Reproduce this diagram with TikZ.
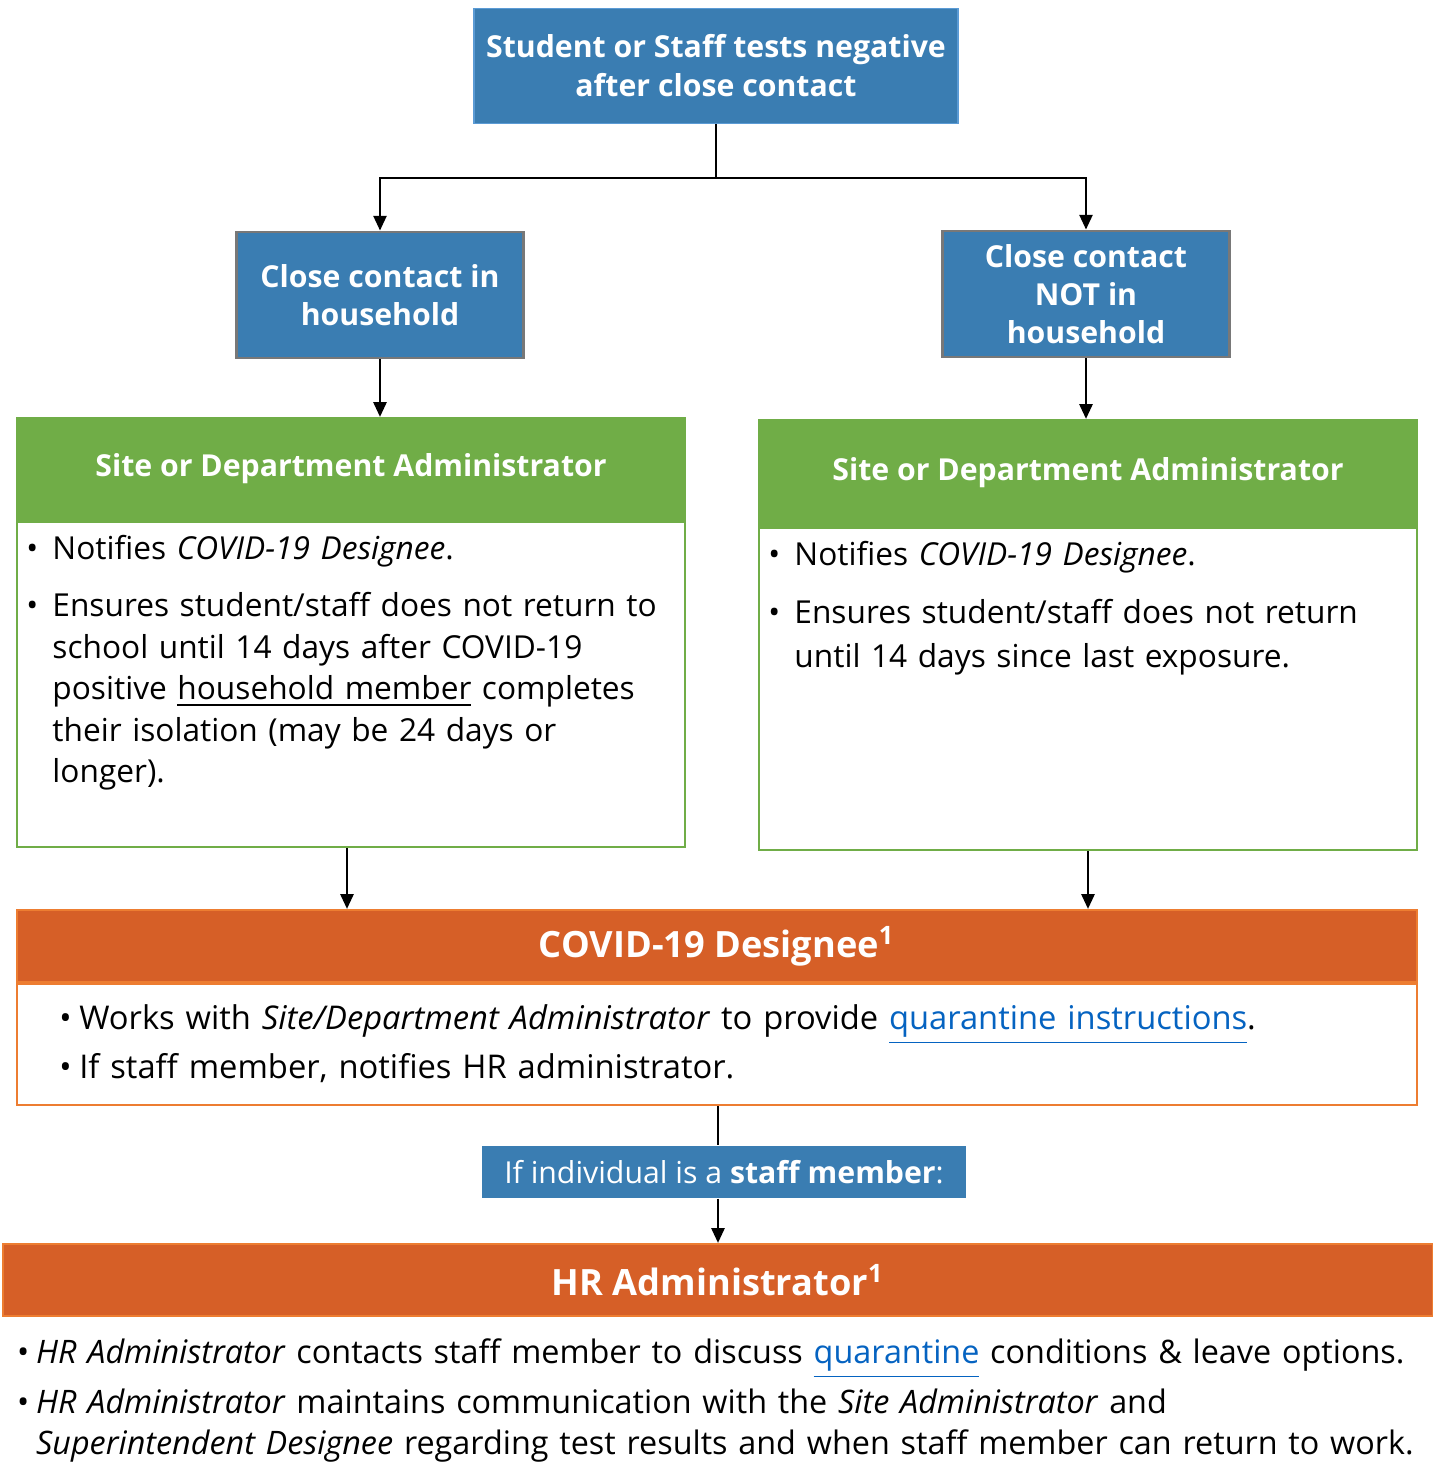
\documentclass[tikz,border=0pt]{standalone}
\usepackage{fontspec}
\setmainfont{Open Sans}
\usetikzlibrary{shapes,arrows,arrows.meta,positioning}

\definecolor{hdblue}{RGB}{58,125,178}
\definecolor{topedge}{RGB}{91,155,213}
\definecolor{boxgray}{RGB}{120,120,120}
\definecolor{hdgreen}{RGB}{112,173,71}
\definecolor{hdorange}{RGB}{214,95,39}
\definecolor{edgeorange}{RGB}{237,125,49}
\definecolor{linkblue}{RGB}{5,99,193}

\newlength\bulw
\setlength\bulw{0.26cm}
\newcommand{\itm}[1]{\noindent\hangindent=\bulw\hangafter=1\makebox[\bulw][l]{\textbullet}#1\par}
\newcommand{\lnk}[1]{\textcolor{linkblue}{\underline{#1}}}

\begin{document}
\begin{tikzpicture}[x=0.01cm,y=-0.01cm]
  % negative test after close contact
  \tikzstyle{topbox} = [draw=topedge, line width=0.5pt, fill=hdblue, text=white, align=center, inner sep=0pt,
    minimum width=4.83cm, minimum height=1.15cm, font=\fontsize{8.6}{11.1}\selectfont\bfseries];
  \tikzstyle{casebox} = [draw=boxgray, line width=0.8pt, fill=hdblue, text=white, align=center, inner sep=0pt,
    minimum width=2.87cm, minimum height=1.26cm, font=\fontsize{8.6}{10.9}\selectfont\bfseries];
  \tikzstyle{greenhead} = [draw=hdgreen, line width=0.6pt, fill=hdgreen, text=white, inner sep=0pt,
    font=\fontsize{8.6}{11}\selectfont\bfseries];
  \tikzstyle{greenbody} = [draw=hdgreen, line width=0.6pt, fill=white, inner sep=0pt];
  \tikzstyle{orangehead} = [draw=edgeorange, line width=0.6pt, fill=hdorange, text=white, inner sep=0pt,
    minimum height=0.72cm, font=\fontsize{10.3}{12}\selectfont\bfseries];
  \tikzstyle{orangebody} = [draw=edgeorange, line width=0.6pt, fill=white, inner sep=0pt];
  \tikzstyle{bodytext} = [inner sep=0pt, align=left, font=\fontsize{9}{11.8}\selectfont];
  \tikzstyle{arrow} = [line width=0.7pt, -{Triangle[width=3.7pt,length=4.2pt]}];
  \tikzstyle{plain} = [line width=0.7pt];

  \useasboundingbox (0,0) rectangle (1433,1469);

  \node[topbox] (test) at (716,66) {Student or Staff tests negative\\after close contact};

  \node[casebox] (inhouse) at (380,295) {Close contact in\\household};
  \node[casebox] (nothouse) at (1086,294) {Close contact\\NOT in\\household};

  % site administrator, household
  \node[greenhead, minimum width=6.68cm, minimum height=1.02cm] (lhead) at (351,469) {Site or Department Administrator};
  \node[greenbody, minimum width=6.68cm, minimum height=3.25cm, below=0pt of lhead] (lbody) {};
  \node[bodytext, text width=6.5cm, below right=0.13cm and 0.1cm of lbody.north west] (ltext) {%
    \setlength\parskip{4.6pt}\setlength\bulw{0.26cm}%
    \itm{Notifies \textit{COVID-19 Designee}.}
    \itm{Ensures student/staff does not return to\newline school until 14 days after COVID-19\newline positive \underline{household member} completes\newline their isolation (may be 24 days or\newline longer).}};

  % site administrator, not household
  \node[greenhead, minimum width=6.58cm, minimum height=1.06cm] (rhead) at (1088,473) {Site or Department Administrator};
  \node[greenbody, minimum width=6.58cm, minimum height=3.22cm, below=0pt of rhead] (rbody) {};
  \node[bodytext, text width=6.4cm, below right=0.13cm and 0.1cm of rbody.north west, font=\fontsize{9}{12.6}\selectfont] (rtext) {%
    \setlength\parskip{3.9pt}\setlength\bulw{0.26cm}%
    \itm{Notifies \textit{COVID-19 Designee}.}
    \itm{Ensures student/staff does not return\newline until 14 days since last exposure.}};

  % designee
  \node[orangehead, minimum width=14cm] (dhead) at (717,946) {COVID-19 Designee\textsuperscript{1}};
  \node[orangebody, minimum width=14cm, minimum height=1.21cm, below=0pt of dhead] (dbody) {};
  \node[bodytext, text width=13.4cm, below right=0.21cm and 0.43cm of dbody.north west, font=\fontsize{9.3}{11.8}\selectfont] (dtext) {%
    \setlength\parskip{2.2pt}\setlength\bulw{0.2cm}%
    \itm{Works with \textit{Site/Department Administrator} to provide \lnk{quarantine instructions}.}
    \itm{If staff member, notifies HR administrator.}};

  \node[fill=hdblue, text=white, inner sep=0pt, minimum width=4.84cm, minimum height=0.52cm,
    font=\fontsize{8.6}{10}\selectfont] (staff) at (724,1172) {If individual is a \textbf{staff member}:};

  % hr administrator
  \node[orangehead, minimum width=14.29cm] (hrhead) at (718,1280) {HR Administrator\textsuperscript{1}};
  \node[fill=white, inner sep=0pt, minimum width=14.29cm, minimum height=1.53cm, below=0pt of hrhead] (hrbody) {};
  \node[bodytext, text width=14.1cm, below right=0.21cm and 0.14cm of hrbody.north west, font=\fontsize{9.2}{11.9}\selectfont] (hrtext) {%
    \setlength\parskip{2.2pt}\setlength\bulw{0.19cm}%
    \itm{\textit{HR Administrator} contacts staff member to discuss \lnk{quarantine} conditions \& leave options.}
    \itm{\textit{HR Administrator} maintains communication with the \textit{Site Administrator} and\newline \textit{Superintendent Designee} regarding test results and when staff member can return to work.}};

  % connectors
  \coordinate (split) at (716,178);
  \draw[plain] (test.south) -- (split);
  \draw[arrow] (split) -| (inhouse.north);
  \draw[arrow] (split) -| (nothouse.north);
  \draw[arrow] (inhouse.south) -- (inhouse.south |- lhead.north);
  \draw[arrow] (nothouse.south) -- (nothouse.south |- rhead.north);
  \draw[arrow] (lbody.south -| 347,0) -- (dhead.north -| 347,0);
  \draw[arrow] (rbody.south) -- (rbody.south |- dhead.north);
  \draw[plain] (dbody.south -| 718,0) -- (staff.north -| 718,0);
  \draw[arrow] (staff.south -| 718,0) -- (hrhead.north -| 718,0);
\end{tikzpicture}
\end{document}
